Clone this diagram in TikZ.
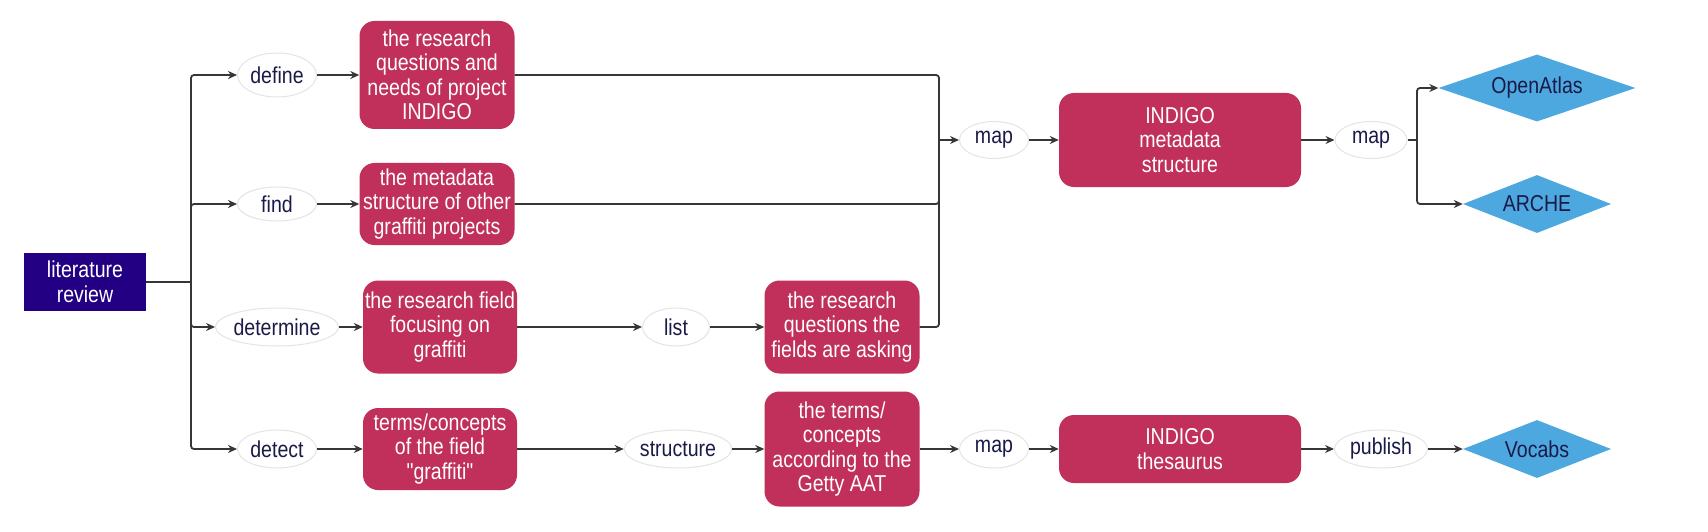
\documentclass[tikz,border=0pt]{standalone}
\usepackage{fontspec}
\setmainfont{Liberation Sans}[FakeStretch=0.85]
\newfontfamily\plainq{Liberation Sans}[FakeStretch=0.85]
\usetikzlibrary{shapes.geometric,arrows.meta}
\definecolor{crim}{HTML}{C0305B}
\definecolor{navy}{HTML}{230083}
\definecolor{sky}{HTML}{4DA8DF}
\definecolor{ink}{HTML}{1A1A48}
\definecolor{edge}{HTML}{E4E4E4}
\definecolor{wire}{HTML}{363636}
\begin{document}
\begin{tikzpicture}[x=1pt,y=-1pt,
  every node/.style={font=\fontsize{23}{24.5}\selectfont, inner sep=0pt, align=center},
  rbox/.style={fill=crim, text=white, rounded corners=15pt},
  verb/.style={ellipse, draw=edge, line width=1pt, fill=white, text=ink},
  goal/.style={diamond, fill=sky, text=ink},
  conn/.style={draw=wire, line width=1.8pt},
  arr/.style={conn, -{Stealth[length=9pt,width=8pt]}}
]
\useasboundingbox (0,0) rectangle (1708,532);
\fill[white] (0,0) rectangle (1708,532);

\node[fill=navy, text=white, minimum width=122pt, minimum height=58pt] (lit) at (85,282) {literature\\review};

\node[verb, minimum width=79pt, minimum height=44pt] (define) at (277,75) {define};
\node[verb, minimum width=79pt, minimum height=34pt] (find) at (277,204) {find};
\node[verb, minimum width=121pt, minimum height=38pt] (determine) at (277,327) {determine};
\node[verb, minimum width=79pt, minimum height=38pt] (detect) at (277,449) {detect};

\node[rbox, minimum width=155pt, minimum height=108pt] (q1) at (437,75) {the research\\questions and\\needs of project\\INDIGO};
\node[rbox, minimum width=155pt, minimum height=82pt] (q2) at (437,204) {the metadata\\structure of other\\graffiti projects};
\node[rbox, minimum width=154pt, minimum height=93pt] (fld) at (440,327) {the research field\\focusing on\\graffiti};
\node[rbox, minimum width=154pt, minimum height=82pt] (trm) at (440,449) {terms/concepts\\of the field\\{\plainq"graffiti"}};

\node[verb, minimum width=67pt, minimum height=38pt] (list) at (676,327) {list};
\node[verb, minimum width=106pt, minimum height=38pt] (struct) at (678,449) {structure};

\node[rbox, minimum width=155pt, minimum height=93pt] (rq) at (842,327) {the research\\questions the\\fields are asking};
\node[rbox, minimum width=155pt, minimum height=115pt] (aat) at (842,449) {the terms/\\concepts\\according to the\\Getty AAT};

\node[verb, minimum width=69pt, minimum height=37pt] (mapa) at (994,140) {map};
\node[verb, minimum width=69pt, minimum height=38pt] (mapb) at (994,449) {map};

\node[rbox, minimum width=242pt, minimum height=94pt] (meta) at (1180,140) {INDIGO\\metadata\\structure};
\node[rbox, minimum width=242pt, minimum height=68pt] (thes) at (1180,449) {INDIGO\\thesaurus};

\node[verb, minimum width=72pt, minimum height=37pt] (mapc) at (1371,140) {map};
\node[verb, minimum width=93pt, minimum height=38pt] (pub) at (1381,449) {publish};

\node[goal, minimum width=197pt, minimum height=67pt, aspect=2.9] (oa) at (1537,88) {OpenAtlas};
\node[goal, minimum width=148pt, minimum height=58pt, aspect=2.5] (arche) at (1537,204) {ARCHE};
\node[goal, minimum width=148pt, minimum height=58pt, aspect=2.5] (voc) at (1537,449) {Vocabs};

\coordinate (t0) at (191,282);
\coordinate (m1) at (939,140);
\coordinate (b2) at (1417,140);

% left trunk
\draw[conn] (lit.east) -- (t0);
\draw[arr, rounded corners=3pt] (t0) |- (define.west);
\draw[arr, rounded corners=3pt] (t0) |- (find.west);
\draw[arr, rounded corners=3pt] (t0) |- (determine.west);
\draw[arr, rounded corners=3pt] (t0) |- (detect.west);

\draw[arr] (define) -- (q1);
\draw[arr] (find) -- (q2);
\draw[arr] (determine) -- (fld);
\draw[arr] (detect) -- (trm);

\draw[arr] (fld) -- (list);
\draw[arr] (list) -- (rq);
\draw[arr] (trm) -- (struct);
\draw[arr] (struct) -- (aat);

% merge
\draw[conn, rounded corners=3pt] (q1.east) -| (m1);
\draw[conn, rounded corners=3pt] (q2.east) -| (m1);
\draw[conn, rounded corners=3pt] (rq.east) -| (m1);
\draw[arr] (m1) -- (mapa);
\draw[arr] (mapa) -- (meta);
\draw[arr] (meta) -- (mapc);
\draw[conn] (mapc.east) -- (b2);
\draw[arr, rounded corners=3pt] (b2) |- (oa.west);
\draw[arr, rounded corners=3pt] (b2) |- (arche.west);

\draw[arr] (aat) -- (mapb);
\draw[arr] (mapb) -- (thes);
\draw[arr] (thes) -- (pub);
\draw[arr] (pub) -- (voc);
\end{tikzpicture}
\end{document}
